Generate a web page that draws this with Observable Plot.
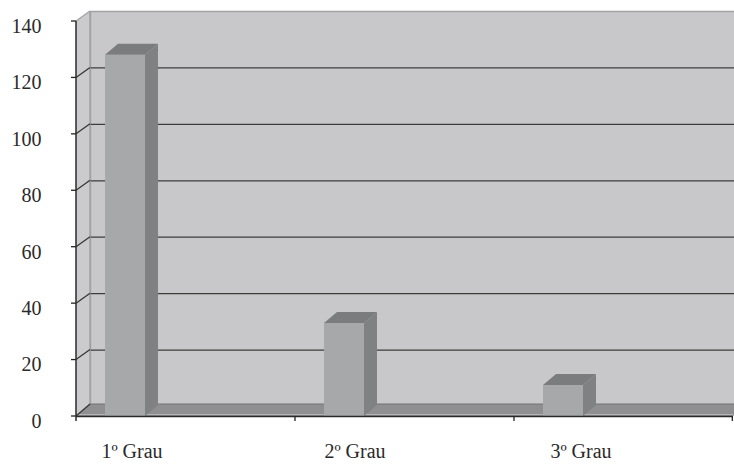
<!DOCTYPE html>
<html>
<head>
<meta charset="utf-8">
<script src="https://cdn.jsdelivr.net/npm/d3@7"></script>
<script src="https://cdn.jsdelivr.net/npm/@observablehq/plot@0.6"></script>
<style>
  body { margin: 0; background: #fff; }
  svg { display: block; }
</style>
</head>
<body>
<div id="chart"></div>
<script>
// Education level and number of people at each level
const categories = ["1º Grau", "2º Grau", "3º Grau"];
const counts = [128, 33, 11];
const yTicks = [0, 20, 40, 60, 80, 100, 120, 140];

const data = categories.map((c, i) => ({category: c, count: counts[i]}));
const yMax = d3.max(yTicks);
const innerTicks = yTicks.filter(t => t > 0 && t < yMax);

// pseudo-3D offsets (pixels) for the back wall, the floor slab and the column depth
const WALL = [14, -10];
const FLOOR = [14, -12];
const DEPTH = [13, -11];
const INSET_L = 29, INSET_R = 150;
const FONT = "Liberation Serif, Times New Roman, serif";
const labelNudge = [-54, -50, -43];

const chart = Plot.plot({
  width: 734,
  height: 467,
  marginLeft: 76,
  marginRight: 1,
  marginTop: 21,
  marginBottom: 51,
  style: {background: "transparent", fontFamily: FONT},
  x: {type: "band", domain: categories, padding: 0, axis: null},
  y: {domain: [0, yMax], axis: null},
  marks: [
    // back wall, pushed back by the depth offset
    Plot.frame({fill: "#c8c8ca", stroke: "#a2a2a4", strokeWidth: 1.5, dx: WALL[0], dy: WALL[1]}),
    // gridlines drawn on the back wall
    Plot.ruleY(innerTicks, {stroke: "#3c3c3c", strokeWidth: 1.2, dx: WALL[0], dy: WALL[1]}),
    // front faces of the columns
    Plot.barY(data, {x: "category", y: "count", fill: "#a7a8aa", insetLeft: INSET_L, insetRight: INSET_R}),
    // front edge of the floor / category axis line
    Plot.ruleY([0], {stroke: "#2a2a2a", strokeWidth: 1.3}),
    // value axis labels
    Plot.text(yTicks, {y: d => d, text: d => String(d), frameAnchor: "left", textAnchor: "end",
      dx: -35, dy: 5, fontSize: 20, fill: "#2a2a2a"}),
    // category labels
    ...categories.map((c, i) => Plot.text([c], {x: d => d, text: d => d, frameAnchor: "bottom",
      dy: 41, dx: labelNudge[i], fontSize: 20, fill: "#2a2a2a"}))
  ]
});

document.getElementById("chart").appendChild(chart);

// 3D faces, built from the plot's own scales
const sx = chart.scale("x"), sy = chart.scale("y");
const bw = sx.bandwidth;
const X = c => sx.apply(c);
const Y = v => sy.apply(v);
const xL = X(categories[0]);
const xR = X(categories[categories.length - 1]) + bw;
const y0 = Y(0), yT = Y(yMax);
const pts = a => a.map(p => p.join(",")).join(" ");

const svg = d3.select(chart);
const barsG = chart.querySelector('g[aria-label="bar"]');
const under = svg.insert("g", () => barsG);

// left side wall
under.append("polygon")
  .attr("points", pts([[xL, y0], [xL, yT], [xL + WALL[0], yT + WALL[1]], [xL + WALL[0], y0 + WALL[1]]]))
  .attr("fill", "#cbcbcd");
under.append("line")
  .attr("x1", xL + WALL[0]).attr("x2", xL + WALL[0])
  .attr("y1", yT + WALL[1]).attr("y2", y0 + WALL[1])
  .attr("stroke", "#a2a2a4").attr("stroke-width", 1.5);

// floor slab
under.append("polygon")
  .attr("points", pts([[xL, y0], [xR, y0], [xR + FLOOR[0], y0 + FLOOR[1]], [xL + FLOOR[0], y0 + FLOOR[1]]]))
  .attr("fill", "#8f8f91");
under.append("line")
  .attr("x1", xL + FLOOR[0]).attr("x2", xR + FLOOR[0])
  .attr("y1", y0 + FLOOR[1]).attr("y2", y0 + FLOOR[1])
  .attr("stroke", "#747476").attr("stroke-width", 1.2);
under.append("line")
  .attr("x1", xL).attr("x2", xR)
  .attr("y1", y0 - 1.5).attr("y2", y0 - 1.5)
  .attr("stroke", "#b4b4b6").attr("stroke-width", 1);

// column sides and tops
const faces = svg.insert("g", () => barsG.nextSibling);
data.forEach(d => {
  const L = X(d.category) + INSET_L;
  const R = X(d.category) + bw - INSET_R;
  const T = Y(d.count);
  faces.append("polygon")
    .attr("points", pts([[R, y0], [R, T], [R + DEPTH[0], T + DEPTH[1]], [R + DEPTH[0], y0 + DEPTH[1]]]))
    .attr("fill", "#808183");
  faces.append("polygon")
    .attr("points", pts([[L, T], [R, T], [R + DEPTH[0], T + DEPTH[1]], [L + DEPTH[0], T + DEPTH[1]]]))
    .attr("fill", "#7b7c7e");
});

// axis lines, ticks and the diagonal connectors on the side wall
const axes = svg.append("g").attr("stroke-linecap", "butt");
yTicks.forEach(t => {
  const y = Y(t);
  const off = t === 0 ? FLOOR : WALL;
  axes.append("line")
    .attr("x1", xL).attr("y1", y).attr("x2", xL + off[0]).attr("y2", y + off[1])
    .attr("stroke", t === yMax ? "#a2a2a4" : "#333").attr("stroke-width", 1.2);
  axes.append("line")
    .attr("x1", xL - 5).attr("y1", y).attr("x2", xL).attr("y2", y)
    .attr("stroke", "#222").attr("stroke-width", 1.3);
});
axes.append("line")
  .attr("x1", xL).attr("x2", xL).attr("y1", yT).attr("y2", y0 + 5)
  .attr("stroke", "#2a2a2a").attr("stroke-width", 1.5);
categories.slice(1).forEach(c => {
  const x = X(c);
  axes.append("line")
    .attr("x1", x).attr("x2", x).attr("y1", y0).attr("y2", y0 + 5)
    .attr("stroke", "#222").attr("stroke-width", 1.3);
});
axes.append("line")
  .attr("x1", xR - 0.7).attr("x2", xR - 0.7).attr("y1", y0).attr("y2", y0 + 5)
  .attr("stroke", "#222").attr("stroke-width", 1.3);
</script>
</body>
</html>
